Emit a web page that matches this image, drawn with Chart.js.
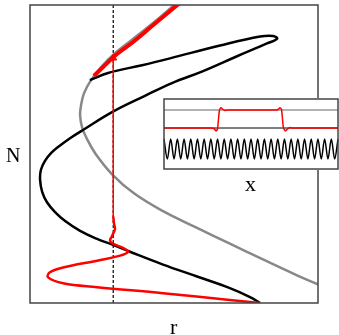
<!DOCTYPE html>
<html>
<head>
<meta charset="utf-8">
<script src="https://cdn.jsdelivr.net/npm/chart.js@4"></script>
<style>
  body { margin: 0; background: #fff; }
  #wrap { position: relative; width: 339px; height: 335px; }
  #inset { position: absolute; left: 163px; top: 98px; background: #fff; }
  .lbl { position: absolute; font-family: 'Liberation Serif', serif; color: #000; line-height: 1; }
</style>
</head>
<body>
<div id="wrap">
  <canvas id="main" width="339" height="335"></canvas>
  <canvas id="inset" width="176" height="72"></canvas>
  <span class="lbl" style="left:6px;top:145px;font-size:20px">N</span>
  <span class="lbl" style="left:170px;top:316px;font-size:22px">r</span>
  <span class="lbl" style="left:245px;top:173px;font-size:22px">x</span>
</div>
<script>
// main panel, [r, N]
let grayCurve = [
    [0.535, 1.03], [0.5, 1.0], [0.424, 0.937], [0.351, 0.881], [0.295, 0.838],
    [0.250, 0.795], [0.212, 0.748], [0.188, 0.705], [0.177, 0.662], [0.174, 0.629],
    [0.181, 0.589], [0.198, 0.550], [0.228, 0.500], [0.285, 0.432], [0.361, 0.368],
    [0.462, 0.308], [0.580, 0.252], [0.694, 0.199], [0.809, 0.146], [0.927, 0.093],
    [1.0, 0.063], [1.024, 0.056]
];
let blackCurve = [
    [0.799, 0.0], [0.764, 0.020], [0.694, 0.050], [0.580, 0.089], [0.462, 0.129],
    [0.347, 0.172], [0.288, 0.195], [0.233, 0.215], [0.174, 0.242], [0.122, 0.275],
    [0.087, 0.305], [0.059, 0.338], [0.042, 0.374], [0.035, 0.414], [0.038, 0.447],
    [0.052, 0.477], [0.073, 0.503], [0.101, 0.526], [0.139, 0.553], [0.188, 0.583],
    [0.288, 0.642], [0.399, 0.695], [0.493, 0.738], [0.601, 0.778], [0.719, 0.828],
    [0.823, 0.871], [0.858, 0.887], [0.844, 0.896], [0.799, 0.894], [0.660, 0.864],
    [0.486, 0.821], [0.389, 0.798], [0.271, 0.772], [0.208, 0.748]
];
let redLower = [
    [0.799, 0.0], [0.694, 0.010], [0.462, 0.033], [0.233, 0.053], [0.115, 0.066],
    [0.063, 0.086], [0.069, 0.103], [0.115, 0.119], [0.233, 0.142], [0.313, 0.159],
    [0.340, 0.172], [0.323, 0.185], [0.288, 0.199], [0.278, 0.209], [0.285, 0.225],
    [0.295, 0.248], [0.292, 0.265], [0.289, 0.291]
];
let redRise = [[0.289, 0.285], [0.289, 0.815]];
let redUpper = [
    [0.222, 0.762], [0.253, 0.791], [0.299, 0.833], [0.358, 0.876], [0.427, 0.932],
    [0.503, 0.993], [0.542, 1.026]
];
let arrowTip = [[0.289, 0.822]];
let dashedLine = [[0.289, 0], [0.289, 1]];

// inset, [x, level]
let insetGray = [[0, 59], [174, 59]];
let insetBase = [[0, 41], [174, 41]];
let insetRed = [
    [0, 41], [47, 41], [50, 40.5], [52, 38], [53.5, 40], [54.5, 50], [55.5, 59],
    [57, 61.3], [59, 59.5], [61, 58.5], [63, 59], [112, 59], [114, 59.5], [116, 61.3],
    [117.5, 59.5], [118.5, 50], [119.5, 41], [121.5, 38], [123.5, 40], [126, 41.5],
    [128, 41], [174, 41]
];
let sineLevels = [
    30, 10, 30, 10, 30, 10, 30, 10, 30, 10, 30, 10, 30, 10, 30, 10, 30, 10,
    30, 10, 30, 10, 30, 10, 30, 10, 30, 10, 30, 10, 30, 10, 30, 10, 30, 10,
    30, 10, 30, 10, 30, 10, 30, 10, 30, 10, 30, 10, 30, 10, 30, 10, 30
];

let pts = (list) => list.map(([x, y]) => ({ x, y }));

let line = (data, color, width, order, extra = {}) => ({
    data: pts(data),
    borderColor: color,
    backgroundColor: color,
    borderWidth: width,
    pointRadius: 0,
    tension: 0.4,
    fill: false,
    order,
    ...extra
});

let frame = {
    id: 'frame',
    afterDraw(chart) {
        let { ctx, chartArea: a } = chart;
        ctx.save();
        ctx.strokeStyle = '#444';
        ctx.lineWidth = 1.5;
        ctx.strokeRect(a.left, a.top, a.right - a.left, a.bottom - a.top);
        ctx.restore();
    }
};

new Chart(document.getElementById('main'), {
    type: 'scatter',
    data: {
        datasets: [
            line(dashedLine, '#000', 1.2, 7, { borderDash: [3, 2], tension: 0 }),
            line(grayCurve, '#888', 2.5, 6),
            line(blackCurve, '#000', 2.5, 5),
            line(redLower, '#f00', 2.5, 4),
            line(redRise, '#f00', 1.5, 3, { tension: 0 }),
            line(redUpper, '#f00', 4, 2),
            {
                data: pts(arrowTip),
                pointStyle: 'triangle',
                pointRadius: 4,
                backgroundColor: '#f00',
                borderColor: '#f00',
                showLine: false,
                order: 1
            }
        ].map(d => ({ showLine: true, ...d }))
    },
    options: {
        responsive: false,
        animation: false,
        layout: { padding: { left: 30, right: 21, top: 1, bottom: 32 } },
        plugins: { legend: { display: false }, tooltip: { enabled: false } },
        scales: {
            x: { type: 'linear', min: 0, max: 1, display: false },
            y: { type: 'linear', min: 0, max: 1, display: false }
        }
    },
    plugins: [frame]
});

new Chart(document.getElementById('inset'), {
    type: 'line',
    data: {
        labels: sineLevels.map((_, i) => i),
        datasets: [
            line(insetGray, '#999', 1.5, 4, { tension: 0 }),
            line(insetBase, '#000', 1, 3, { tension: 0 }),
            line(insetRed, '#f00', 1.5, 1, { tension: 0.2 }),
            {
                data: sineLevels,
                xAxisID: 'xs',
                borderColor: '#000',
                borderWidth: 1.5,
                pointRadius: 0,
                cubicInterpolationMode: 'monotone',
                order: 2
            }
        ]
    },
    options: {
        responsive: false,
        animation: false,
        layout: { padding: 1 },
        plugins: { legend: { display: false }, tooltip: { enabled: false } },
        scales: {
            x: { type: 'linear', min: 0, max: 174, display: false },
            xs: { type: 'category', offset: false, display: false },
            y: { type: 'linear', min: 0, max: 70, display: false }
        }
    },
    plugins: [frame]
});
</script>
</body>
</html>
